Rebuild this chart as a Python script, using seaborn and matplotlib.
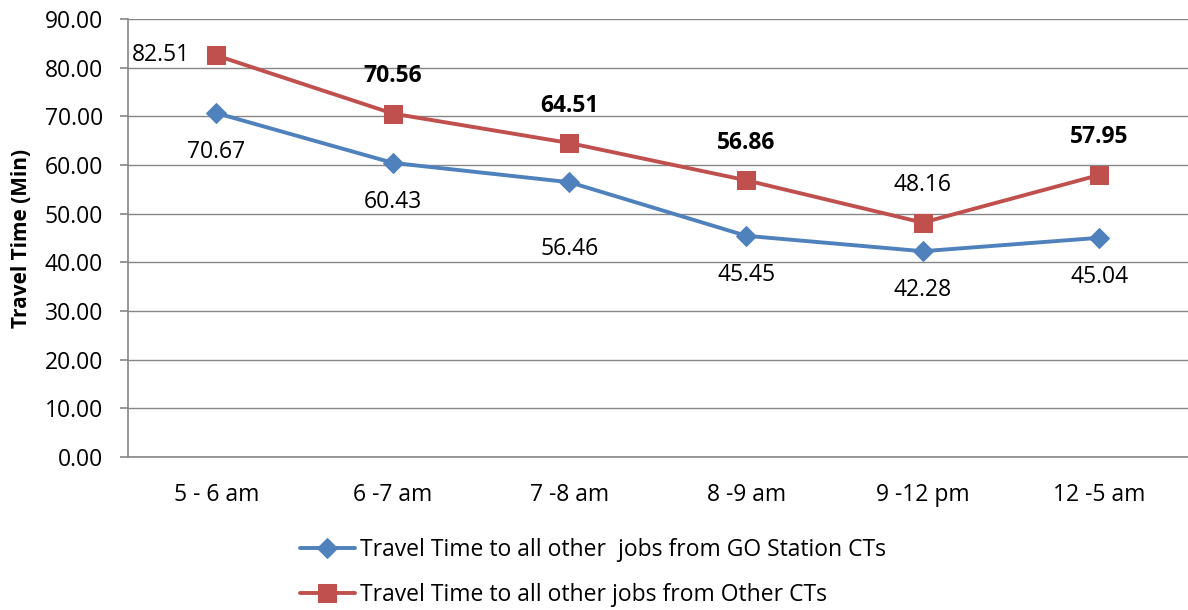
import matplotlib
matplotlib.use("Agg")
import matplotlib.pyplot as plt
import seaborn as sns
import pandas as pd
import numpy as np

categories = ["5 - 6 am", "6 -7 am", "7 -8 am", "8 -9 am", "9 -12 pm", "12 -5 am"]
go_station = [70.67, 60.43, 56.46, 45.45, 42.28, 45.04]
other_cts = [82.51, 70.56, 64.51, 56.86, 48.16, 57.95]
series_names = ["Travel Time to all other  jobs from GO Station CTs",
                "Travel Time to all other jobs from Other CTs"]
yticks = [0, 10, 20, 30, 40, 50, 60, 70, 80, 90]

sns.set_theme(style="white")
plt.rcParams['font.family'] = ['Open Sans', 'DejaVu Sans']
plt.rcParams['text.color'] = 'black'
plt.rcParams['xtick.color'] = 'black'
plt.rcParams['ytick.color'] = 'black'
plt.rcParams['axes.labelcolor'] = 'black'

FS = 16.5

df = pd.DataFrame({
    "cat": categories * 2,
    "x": list(range(len(categories))) * 2,
    "value": go_station + other_cts,
    "series": [series_names[0]] * 6 + [series_names[1]] * 6,
})

fig = plt.figure(figsize=(11.88, 6.10), dpi=100)
ax = fig.add_axes([0.1077, 0.2508, 0.892, 0.7181])

colors = {series_names[0]: "#4F81BD", series_names[1]: "#C0504D"}
markers = {series_names[0]: "D", series_names[1]: "s"}
sizes = {series_names[0]: 10, series_names[1]: 12.5}
for name in series_names:
    sub = df[df.series == name]
    sns.lineplot(data=sub, x="x", y="value", ax=ax, color=colors[name],
                 marker=markers[name], markersize=sizes[name], linewidth=2.8,
                 markeredgecolor=colors[name], label=name, zorder=3)

ax.set_xlim(-0.5, len(categories) - 0.5)
ax.set_ylim(0, 90)
ax.set_yticks(yticks)
ax.set_yticklabels([f"{v:.2f}" for v in yticks], fontsize=FS)
ax.set_xticks(range(len(categories)))
ax.set_xticklabels(categories, fontsize=FS)
ax.set_xticks(np.arange(-0.5, len(categories), 1.0), minor=True)
ax.tick_params(axis="x", which="major", length=0, pad=19)
ax.tick_params(axis="x", which="minor", length=6, color="#868686", width=1.2, direction="out")
ax.tick_params(axis="y", which="major", length=6, color="#868686", width=1.2, direction="out", pad=12, left=True)
ax.yaxis.grid(True, color="#868686", linewidth=1.0)
ax.set_axisbelow(True)
for s in ["top", "right"]:
    ax.spines[s].set_visible(False)
for s in ["left", "bottom"]:
    ax.spines[s].set_color("#868686")
    ax.spines[s].set_linewidth(1.2)
ax.set_xlabel("")
ax.set_ylabel("Travel Time (Min)", fontsize=15, fontweight="bold")
ax.yaxis.set_label_coords(-0.091, 0.5)

# data labels
for i, v in enumerate(go_station):
    off = -48 if i == 2 else -28
    ax.annotate(f"{v:.2f}", (i, v), xytext=(0, off), textcoords="offset points",
                ha="center", va="center", fontsize=FS, color="black")
for i, v in enumerate(other_cts):
    if i == 0:
        ax.annotate(f"{v:.2f}", (i, v), xytext=(-40, 0), textcoords="offset points",
                    ha="center", va="center", fontsize=FS, color="black")
    else:
        bold = "normal" if i == 4 else "bold"
        ax.annotate(f"{v:.2f}", (i, v), xytext=(0, 27), textcoords="offset points",
                    ha="center", va="center", fontsize=FS, color="black", fontweight=bold)

ax.get_legend().remove()
handles, labels = ax.get_legend_handles_labels()
fig.legend(handles, labels, loc="upper left", bbox_to_anchor=(0.2525, 0.118),
           bbox_transform=fig.transFigure, frameon=False,
           fontsize=FS, ncol=1, handlelength=2.4, handletextpad=0.2,
           labelspacing=0.9, borderaxespad=0, borderpad=0)

fig.savefig("out.png", dpi=100)
